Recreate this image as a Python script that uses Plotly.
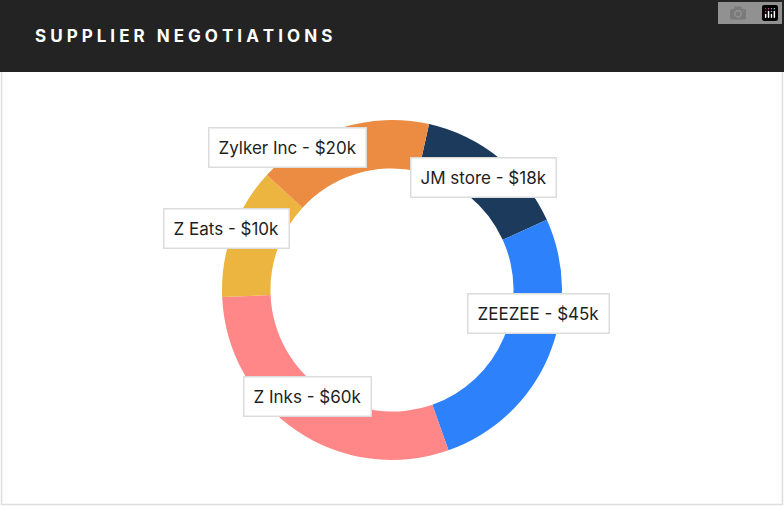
import plotly.graph_objects as go

# slices in clockwise order starting from the top
names = ["JM store", "ZEEZEE", "Z Inks", "Z Eats", "Zylker Inc"]
amounts = ["$18k", "$45k", "$60k", "$10k", "$20k"]
sizes = [53, 95, 107, 45, 60]  # slice angles
colors = ["#1b3a5c", "#2d81fb", "#ff8787", "#ebb540", "#ec8c42"]

# label box centres, in pixels of the 784x506 page
label_x = [557, 610, 243, 163, 287]
label_y = [157, 313, 417, 228, 127]

W, H = 784, 506

fig = go.Figure(go.Pie(
    values=sizes,
    labels=names,
    marker=dict(colors=colors, line=dict(width=0)),
    hole=0.715,
    sort=False,
    direction="clockwise",
    rotation=12.6,
    textinfo="none",
    hoverinfo="label",
    domain=dict(x=[(392 - 170) / W, (392 + 170) / W],
                y=[(H - 290 - 170) / H, (H - 290 + 170) / H]),
    showlegend=False,
))

# card and header
fig.add_shape(type="rect", xref="paper", yref="paper", x0=0.002, x1=0.998, y0=0.003, y1=0.9,
              line=dict(color="#dddddd", width=1.5), fillcolor="white", layer="below")
fig.add_shape(type="rect", xref="paper", yref="paper", x0=0, x1=1, y0=1 - 72 / H, y1=1,
              line=dict(width=0), fillcolor="#232323", layer="below")
fig.add_annotation(text="<b>S U P P L I E R   N E G O T I A T I O N S</b>", xref="paper", yref="paper",
                   x=33 / W, y=1 - 36 / H, xanchor="left", yanchor="middle", showarrow=False,
                   font=dict(family="Inter", size=17, color="white"))

for n, a, x, y in zip(names, amounts, label_x, label_y):
    fig.add_annotation(text=f"{n} - {a}", xref="paper", yref="paper",
                       x=x / W, y=1 - y / H, showarrow=False,
                       font=dict(family="Inter", size=17, color="#1e1e1e"),
                       bgcolor="white", bordercolor="#dcdcdc", borderwidth=1.5,
                       borderpad=9)

fig.update_layout(width=W, height=H, margin=dict(l=0, r=0, t=0, b=0),
                  paper_bgcolor="white", plot_bgcolor="white")
fig.write_html("out.html", post_script="document.body.style.margin='0';")
